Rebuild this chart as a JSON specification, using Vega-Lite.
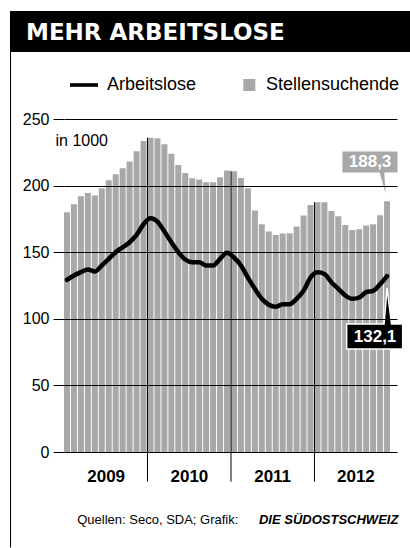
{
  "$schema": "https://vega.github.io/schema/vega-lite/v6.json",
  "background": "white",
  "padding": {"left": 10, "top": 11, "right": 0, "bottom": 0},
  "spacing": 59,
  "columns": 1,
  "align": "none",
  "config": {
    "view": {"stroke": null},
    "font": "Liberation Sans",
    "locale": {"number": {"decimal": ",", "thousands": "'", "grouping": [3], "currency": ["", " CHF"]}}
  },
  "datasets": {
    "monate": [
      {"Monat": "2009-01", "Stellensuchende": 180, "Arbeitslose": 129.2},
      {"Monat": "2009-02", "Stellensuchende": 186, "Arbeitslose": 132.5},
      {"Monat": "2009-03", "Stellensuchende": 192, "Arbeitslose": 135},
      {"Monat": "2009-04", "Stellensuchende": 194.5, "Arbeitslose": 137},
      {"Monat": "2009-05", "Stellensuchende": 192.5, "Arbeitslose": 135.5},
      {"Monat": "2009-06", "Stellensuchende": 198, "Arbeitslose": 140},
      {"Monat": "2009-07", "Stellensuchende": 204, "Arbeitslose": 145},
      {"Monat": "2009-08", "Stellensuchende": 208.5, "Arbeitslose": 150},
      {"Monat": "2009-09", "Stellensuchende": 213, "Arbeitslose": 153.7},
      {"Monat": "2009-10", "Stellensuchende": 218, "Arbeitslose": 157.5},
      {"Monat": "2009-11", "Stellensuchende": 225.7, "Arbeitslose": 163},
      {"Monat": "2009-12", "Stellensuchende": 233.5, "Arbeitslose": 171},
      {"Monat": "2010-01", "Stellensuchende": 236, "Arbeitslose": 175.5},
      {"Monat": "2010-02", "Stellensuchende": 235.5, "Arbeitslose": 173},
      {"Monat": "2010-03", "Stellensuchende": 231, "Arbeitslose": 165.5},
      {"Monat": "2010-04", "Stellensuchende": 224, "Arbeitslose": 157.5},
      {"Monat": "2010-05", "Stellensuchende": 215.5, "Arbeitslose": 150},
      {"Monat": "2010-06", "Stellensuchende": 209.5, "Arbeitslose": 144.5},
      {"Monat": "2010-07", "Stellensuchende": 205.5, "Arbeitslose": 142.5},
      {"Monat": "2010-08", "Stellensuchende": 204.5, "Arbeitslose": 142.5},
      {"Monat": "2010-09", "Stellensuchende": 202.5, "Arbeitslose": 140},
      {"Monat": "2010-10", "Stellensuchende": 202.5, "Arbeitslose": 140},
      {"Monat": "2010-11", "Stellensuchende": 206.3, "Arbeitslose": 145},
      {"Monat": "2010-12", "Stellensuchende": 211.3, "Arbeitslose": 149.5},
      {"Monat": "2011-01", "Stellensuchende": 210.8, "Arbeitslose": 146},
      {"Monat": "2011-02", "Stellensuchende": 205.7, "Arbeitslose": 140},
      {"Monat": "2011-03", "Stellensuchende": 198, "Arbeitslose": 131},
      {"Monat": "2011-04", "Stellensuchende": 181.3, "Arbeitslose": 122.5},
      {"Monat": "2011-05", "Stellensuchende": 171, "Arbeitslose": 115},
      {"Monat": "2011-06", "Stellensuchende": 165.5, "Arbeitslose": 110.5},
      {"Monat": "2011-07", "Stellensuchende": 163, "Arbeitslose": 109},
      {"Monat": "2011-08", "Stellensuchende": 164, "Arbeitslose": 111},
      {"Monat": "2011-09", "Stellensuchende": 164.3, "Arbeitslose": 111},
      {"Monat": "2011-10", "Stellensuchende": 169.3, "Arbeitslose": 115},
      {"Monat": "2011-11", "Stellensuchende": 177.5, "Arbeitslose": 121},
      {"Monat": "2011-12", "Stellensuchende": 185.5, "Arbeitslose": 131},
      {"Monat": "2012-01", "Stellensuchende": 187.5, "Arbeitslose": 135},
      {"Monat": "2012-02", "Stellensuchende": 187.5, "Arbeitslose": 133.7},
      {"Monat": "2012-03", "Stellensuchende": 181, "Arbeitslose": 127.5},
      {"Monat": "2012-04", "Stellensuchende": 177, "Arbeitslose": 122.5},
      {"Monat": "2012-05", "Stellensuchende": 170.5, "Arbeitslose": 117.5},
      {"Monat": "2012-06", "Stellensuchende": 166.7, "Arbeitslose": 115},
      {"Monat": "2012-07", "Stellensuchende": 167.2, "Arbeitslose": 116},
      {"Monat": "2012-08", "Stellensuchende": 170, "Arbeitslose": 120},
      {"Monat": "2012-09", "Stellensuchende": 171, "Arbeitslose": 121},
      {"Monat": "2012-10", "Stellensuchende": 177.7, "Arbeitslose": 126},
      {"Monat": "2012-11", "Stellensuchende": 188.3, "Arbeitslose": 132.1}
    ],
    "jahre": [
      {"Jahr": "2009"}, {"Jahr": "2010"}, {"Jahr": "2011"}, {"Jahr": "2012"}
    ]
  },
  "concat": [
    {
      "width": 400,
      "height": 41,
      "view": {"fill": "black", "stroke": null},
      "data": {"values": [{"Titel": "MEHR ARBEITSLOSE"}]},
      "mark": {"type": "text", "align": "left", "baseline": "middle", "dx": -184, "dy": 1, "color": "white", "font": "DejaVu Sans", "fontWeight": "bold", "fontSize": 23},
      "encoding": {"text": {"field": "Titel", "type": "nominal"}}
    },
    {
      "width": 387,
      "height": 333,
      "layer": [
        {
          "data": {"name": "monate"},
          "encoding": {
            "x": {
              "field": "Monat", "type": "ordinal",
              "scale": {
                "domain": ["2009-01","2009-02","2009-03","2009-04","2009-05","2009-06","2009-07","2009-08","2009-09","2009-10","2009-11","2009-12",
                           "2010-01","2010-02","2010-03","2010-04","2010-05","2010-06","2010-07","2010-08","2010-09","2010-10","2010-11","2010-12",
                           "2011-01","2011-02","2011-03","2011-04","2011-05","2011-06","2011-07","2011-08","2011-09","2011-10","2011-11","2011-12",
                           "2012-01","2012-02","2012-03","2012-04","2012-05","2012-06","2012-07","2012-08","2012-09","2012-10","2012-11","2012-12"],
                "range": [54, 387], "paddingInner": 0.14, "paddingOuter": 0
              },
              "axis": null
            }
          },
          "layer": [
            {
              "mark": {"type": "bar"},
              "encoding": {
                "y": {
                  "field": "Stellensuchende", "type": "quantitative",
                  "scale": {"domain": [0, 250], "nice": false},
                  "axis": {
                    "values": [0, 50, 100, 150, 200, 250], "offset": -54,
                    "title": "in 1000", "titleAngle": 0, "titleAlign": "left", "titleBaseline": "middle",
                    "titleX": -9, "titleY": 21.5, "titleFont": "Liberation Sans", "titleFontSize": 16,
                    "titleFontWeight": "normal", "titleColor": "black",
                    "labelFont": "Liberation Sans", "labelFontSize": 16, "labelColor": "black", "labelPadding": 4,
                    "tickSize": 11, "tickColor": "black", "tickWidth": 1, "domain": false,
                    "grid": true, "gridColor": "black", "gridWidth": 1, "gridOpacity": 1,
                    "zindex": 1
                  }
                },
                "color": {
                  "datum": "Stellensuchende",
                  "scale": {"domain": ["Arbeitslose", "Stellensuchende"], "range": ["#000000", "#a8a8a8"]},
                  "legend": {
                    "orient": "none", "legendX": 60, "legendY": 60, "direction": "horizontal", "title": null, "padding": 0,
                    "labelFont": "Liberation Sans", "labelFontSize": 18, "labelColor": "black", "labelOffset": 9,
                    "columnPadding": 32, "symbolSize": 784, "symbolStrokeWidth": 0, "gridAlign": "none",
                    "encode": {
                      "symbols": {
                        "update": {
                          "shape": {"signal": "datum.value === 'Arbeitslose' ? 'M-1,-0.13H1V0.13H-1Z' : 'M0.02,-0.43H0.88V0.43H0.02Z'"},
                          "fill": {"signal": "datum.value === 'Arbeitslose' ? '#000000' : '#a8a8a8'"},
                          "strokeWidth": {"value": 0},
                          "opacity": {"value": 1}
                        }
                      }
                    }
                  }
                }
              }
            },
            {
              "transform": [{"filter": {"field": "Monat", "oneOf": ["2010-01", "2011-01", "2012-01"]}}],
              "mark": {"type": "rule", "color": "black", "strokeWidth": 1},
              "encoding": {
                "x": {"field": "Monat", "type": "ordinal", "bandPosition": 0},
                "y": {"field": "Stellensuchende", "type": "quantitative"},
                "y2": {"datum": -22.3}
              }
            },
            {
              "mark": {"type": "line", "interpolate": "monotone", "strokeWidth": 4.5, "strokeCap": "round", "strokeJoin": "round"},
              "encoding": {
                "y": {"field": "Arbeitslose", "type": "quantitative"},
                "color": {"datum": "Arbeitslose"}
              }
            },
            {
              "transform": [{"filter": {"field": "Monat", "equal": "2012-11"}}],
              "mark": {"type": "point", "filled": true, "size": 10000, "opacity": 1, "fill": "#a8a8a8", "stroke": "white", "strokeWidth": 1.5,
                       "shape": "M-0.908,-1.01H0.224V-0.558H-0.04L-0.005,-0.01L-0.16,-0.558H-0.908Z"},
              "encoding": {"y": {"field": "Stellensuchende", "type": "quantitative"}}
            },
            {
              "transform": [{"filter": {"field": "Monat", "equal": "2012-11"}}],
              "mark": {"type": "text", "align": "center", "baseline": "middle", "dx": -17, "dy": -39, "color": "white", "font": "Liberation Sans", "fontWeight": "bold", "fontSize": 17},
              "encoding": {
                "y": {"field": "Stellensuchende", "type": "quantitative"},
                "text": {"field": "Stellensuchende", "type": "quantitative", "format": ".1f"}
              }
            },
            {
              "transform": [{"filter": {"field": "Monat", "equal": "2012-11"}}],
              "mark": {"type": "point", "filled": true, "size": 10000, "opacity": 1, "fill": "black", "stroke": "white", "strokeWidth": 1.5,
                       "shape": "M-0.808,0.96H-0.06L0,0.24L0.09,0.96H0.312V1.46H-0.808Z"},
              "encoding": {"y": {"field": "Arbeitslose", "type": "quantitative"}}
            },
            {
              "transform": [{"filter": {"field": "Monat", "equal": "2012-11"}}],
              "mark": {"type": "text", "align": "center", "baseline": "middle", "dx": -12, "dy": 61, "color": "white", "font": "Liberation Sans", "fontWeight": "bold", "fontSize": 17},
              "encoding": {
                "y": {"field": "Arbeitslose", "type": "quantitative"},
                "text": {"field": "Arbeitslose", "type": "quantitative", "format": ".1f"}
              }
            }
          ]
        },
        {
          "data": {"name": "jahre"},
          "encoding": {
            "x": {
              "field": "Jahr", "type": "ordinal",
              "scale": {"domain": ["2009", "2010", "2011", "2012"], "range": [54, 387], "paddingInner": 0, "paddingOuter": 0},
              "axis": {
                "orient": "bottom", "ticks": false, "tickSize": 0, "domain": false, "grid": false, "title": null,
                "labelAngle": 0, "labelFont": "Liberation Sans", "labelFontSize": 17, "labelFontWeight": "bold",
                "labelColor": "black", "labelPadding": 29, "labelBaseline": "alphabetic"
              }
            },
            "y": {
              "datum": -51, "type": "quantitative",
              "scale": {"domain": [-71.3, 301], "range": [428, -68], "nice": false, "zero": false},
              "axis": {"orient": "left", "offset": 0, "domain": true, "domainColor": "black", "domainWidth": 1,
                       "ticks": false, "labels": false, "grid": false, "title": null}
            }
          },
          "layer": [
            {
              "transform": [{"filter": {"field": "Jahr", "equal": "2012"}}],
              "mark": {"type": "text", "align": "right", "baseline": "middle", "dx": 43, "font": "Liberation Sans", "fontSize": 13, "fontWeight": "bold", "fontStyle": "italic", "color": "black"},
              "encoding": {"text": {"value": "DIE SÜDOSTSCHWEIZ"}}
            },
            {
              "transform": [{"filter": {"field": "Jahr", "equal": "2012"}}],
              "mark": {"type": "text", "align": "right", "baseline": "middle", "dx": -117, "font": "Liberation Sans", "fontSize": 13, "color": "black"},
              "encoding": {"text": {"value": "Quellen: Seco, SDA; Grafik:"}}
            }
          ]
        }
      ],
      "resolve": {"scale": {"x": "independent", "y": "independent"}}
    }
  ]
}
